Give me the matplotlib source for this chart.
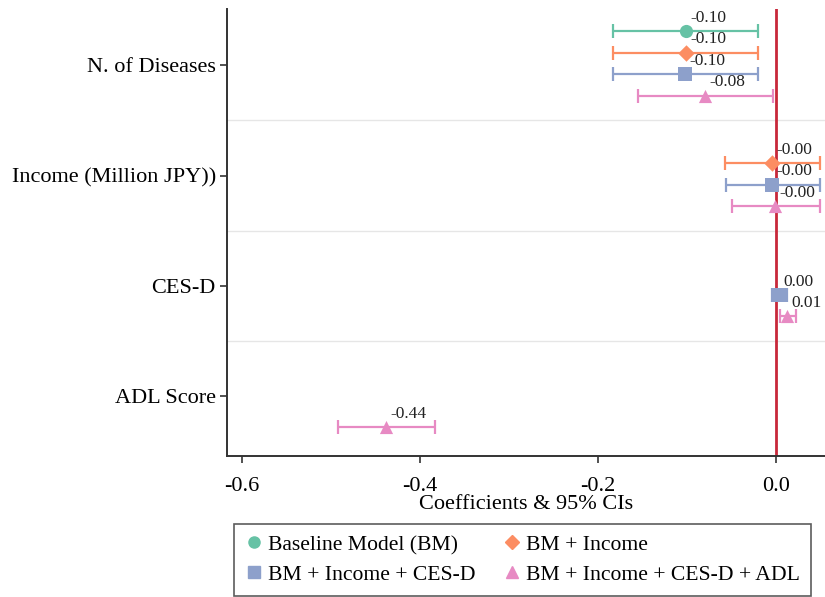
import matplotlib
matplotlib.use('Agg')
import matplotlib.pyplot as plt
import numpy as np
from matplotlib.lines import Line2D

plt.rcParams['font.family'] = ['Liberation Serif', 'DejaVu Serif']

# variables (top to bottom)
variables = ["N. of Diseases", "Income (Million JPY))", "CES-D", "ADL Score"]

models = ["Baseline Model (BM)", "BM + Income", "BM + Income + CES-D",
          "BM + Income + CES-D + ADL"]
colors = ["#66c2a5", "#fc8d62", "#8da0cb", "#e78ac3"]
markers = ["o", "D", "s", "^"]

nan = np.nan
# coefficients per model, one value per variable (nan = not in model)
coef_bm = [-0.101, nan, nan, nan]
lo_bm = [-0.183, nan, nan, nan]
hi_bm = [-0.020, nan, nan, nan]

coef_inc = [-0.101, -0.004, nan, nan]
lo_inc = [-0.183, -0.057, nan, nan]
hi_inc = [-0.020, 0.049, nan, nan]

coef_cesd = [-0.102, -0.004, 0.003, nan]
lo_cesd = [-0.183, -0.056, -0.004, nan]
hi_cesd = [-0.020, 0.049, 0.012, nan]

coef_adl = [-0.080, -0.001, 0.012, -0.438]
lo_adl = [-0.155, -0.049, 0.004, -0.492]
hi_adl = [-0.003, 0.049, 0.022, -0.383]

coefs = [coef_bm, coef_inc, coef_cesd, coef_adl]
lows = [lo_bm, lo_inc, lo_cesd, lo_adl]
highs = [hi_bm, hi_inc, hi_cesd, hi_adl]
offsets = [-0.31, -0.115, 0.08, 0.275]

fig = plt.figure(figsize=(8.25, 5.97), dpi=100)
ax = fig.add_axes([0.275, 0.236, 0.725, 0.749])

base = np.arange(1, len(variables) + 1)
for k in range(len(models)):
    c = np.array(coefs[k])
    lo = np.array(lows[k])
    hi = np.array(highs[k])
    y = base + offsets[k]
    ok = ~np.isnan(c)
    ax.errorbar(c[ok], y[ok], xerr=[c[ok] - lo[ok], hi[ok] - c[ok]],
                fmt='none', ecolor=colors[k], elinewidth=1.6, capsize=5,
                capthick=1.6, zorder=2)
    ax.scatter(c[ok], y[ok], marker=markers[k], color=colors[k],
               s=90 if markers[k] != 'D' else 70, zorder=3, linewidths=0)
    for xv, yv in zip(c[ok], y[ok]):
        ax.annotate(f"{xv:.2f}", (xv, yv), xytext=(3, 9.5),
                    textcoords='offset points', ha='left', va='center',
                    fontsize=12.5, color='#222222')

ax.axvline(0, color='#c8283a', linewidth=2, zorder=1)
for g in [1.5, 2.5, 3.5]:
    ax.axhline(g, color='#e6e6e6', linewidth=1, zorder=0)

ax.set_xlim(-0.617, 0.055)
ax.set_ylim(4.54, 0.49)
ax.set_yticks(base)
ax.set_yticklabels(variables, fontsize=16)
ax.set_xticks([-0.6, -0.4, -0.2, 0.0])
ax.set_xticklabels(["-0.6", "-0.4", "-0.2", "0.0"], fontsize=16)
ax.tick_params(axis='both', length=5, width=1.2, color='#333333', pad=3)
ax.tick_params(axis='x', pad=10)
ax.set_xlabel("Coefficients & 95% CIs", fontsize=16, labelpad=-1)
for s in ['top', 'right']:
    ax.spines[s].set_visible(False)
for s in ['left', 'bottom']:
    ax.spines[s].set_linewidth(1.4)
    ax.spines[s].set_color('#333333')

handles = [Line2D([], [], marker=markers[k], color=colors[k], linestyle='none',
                  markersize=8 if markers[k] != 'D' else 7.5)
           for k in range(len(models))]
order = [0, 2, 1, 3]
leg = fig.legend([handles[i] for i in order], [models[i] for i in order],
                 ncol=2, loc='upper left', bbox_to_anchor=(234 / 825, 1 - 524 / 597),
                 fontsize=15.6, frameon=True, fancybox=False,
                 handletextpad=0.25, handlelength=0.8, borderpad=0.5,
                 labelspacing=0.45, columnspacing=1.3, borderaxespad=0)
leg.get_frame().set_edgecolor('#333333')
leg.get_frame().set_linewidth(1.2)

fig.savefig("out.png", dpi=100)
